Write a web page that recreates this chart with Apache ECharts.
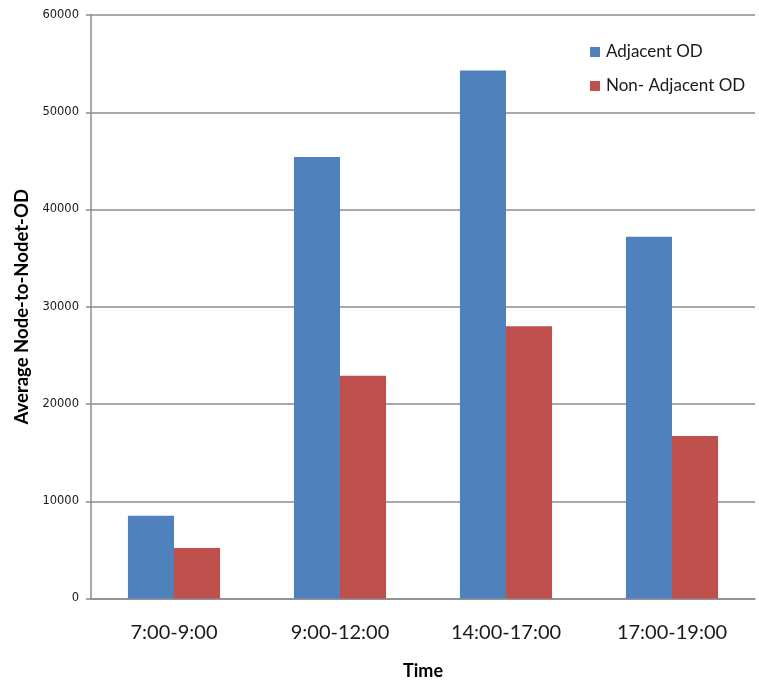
<!DOCTYPE html>
<html>
<head>
<meta charset="utf-8">
<script src="https://cdn.jsdelivr.net/npm/echarts@6/dist/echarts.min.js"></script>
<style>html,body{margin:0;padding:0;background:#fff}#c{width:759px;height:686px}</style>
</head>
<body>
<div id="c"></div>
<script>
const categories = ['7:00-9:00', '9:00-12:00', '14:00-17:00', '17:00-19:00'];
const adjacentOD = [8500, 45400, 54300, 37200];
const nonAdjacentOD = [5200, 22900, 28000, 16700];
const seriesNames = ['Adjacent OD', 'Non- Adjacent OD'];

const chart = echarts.init(document.getElementById('c'), null, {renderer: 'canvas'});
chart.setOption({
  backgroundColor: '#ffffff',
  animation: false,
  grid: {left: 91, top: 15, right: 4, bottom: 87.5, containLabel: false},
  legend: {
    orient: 'vertical',
    left: 590,
    top: 42,
    padding: 0,
    itemWidth: 10,
    itemHeight: 10,
    itemGap: 14,
    icon: 'rect',
    textStyle: {fontFamily: 'Lato', fontSize: 17, color: '#1a1a1a', lineHeight: 20, padding: [0, 0, 0, 1]},
    data: seriesNames
  },
  xAxis: {
    type: 'category',
    data: categories,
    name: 'Time',
    nameLocation: 'middle',
    nameGap: 64,
    nameTextStyle: {fontFamily: 'Lato', fontWeight: 'bold', fontSize: 18, color: '#000'},
    axisLine: {lineStyle: {color: '#8c8c8c', width: 1.5}},
    axisTick: {show: false},
    axisLabel: {fontFamily: 'Lato', fontSize: 20, color: '#1a1a1a', margin: 24}
  },
  yAxis: {
    type: 'value',
    min: 0,
    max: 60000,
    interval: 10000,
    name: 'Average Node-to-Nodet-OD',
    nameLocation: 'middle',
    nameRotate: 90,
    nameGap: 59,
    nameTextStyle: {fontFamily: 'Lato', fontWeight: 'bold', fontSize: 18.5, color: '#000'},
    axisLine: {show: true, lineStyle: {color: '#8c8c8c', width: 1.5}},
    axisTick: {show: true, inside: false, length: 5, lineStyle: {color: '#8c8c8c', width: 1.5}},
    axisLabel: {fontFamily: 'DejaVu Sans', fontSize: 11.5, color: '#1a1a1a', margin: 12,
      formatter: function (v) { return String(v); }},
    splitLine: {show: true, lineStyle: {color: '#8c8c8c', width: 1.5}}
  },
  series: [
    {
      name: seriesNames[0],
      type: 'bar',
      data: adjacentOD,
      itemStyle: {color: '#4F81BD'},
      barGap: '0%',
      barCategoryGap: '44.5%'
    },
    {
      name: seriesNames[1],
      type: 'bar',
      data: nonAdjacentOD,
      itemStyle: {color: '#C0504D'},
      barGap: '0%',
      barCategoryGap: '44.5%'
    }
  ]
});
</script>
</body>
</html>
